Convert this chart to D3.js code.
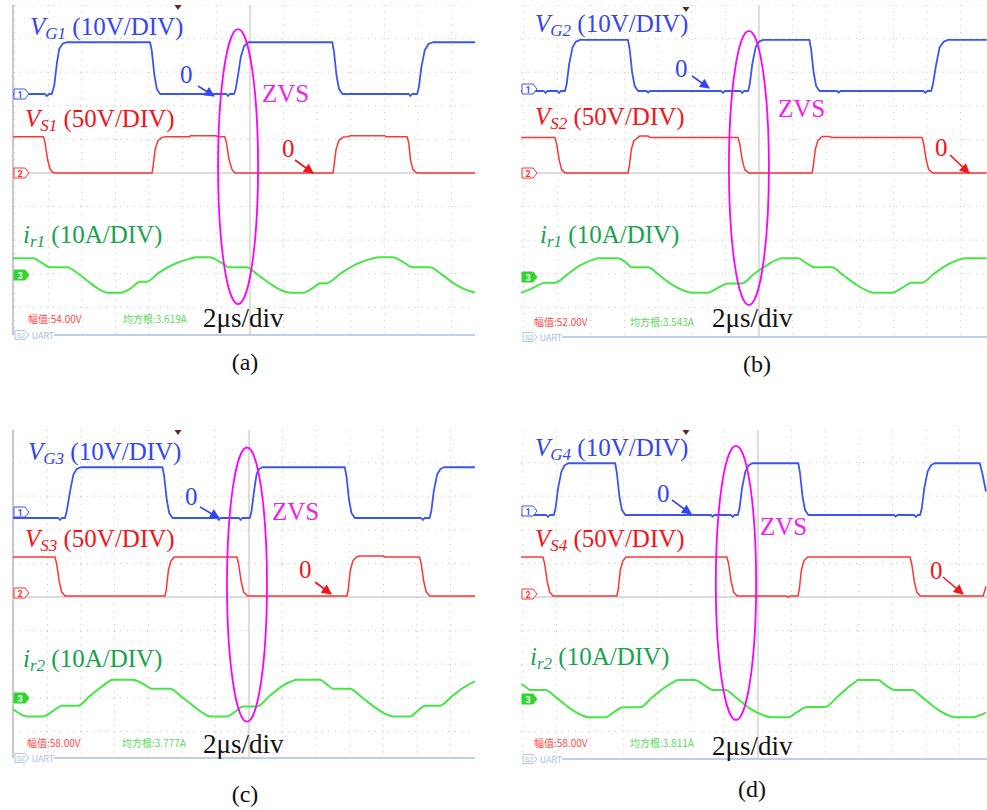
<!DOCTYPE html>
<html>
<head>
<meta charset="utf-8">
<script src="https://cdn.jsdelivr.net/npm/d3@7"></script>
<style>
  body { margin: 0; background: #fff; }
  svg { display: block; }
</style>
</head>
<body>
<div id="chart"></div>
<script>
/** Waveform data: [time (µs, 0 = screen centre), value] **/
// gate voltages, V
const vgA = [[-14.1,0],[-12.2,0],[-12.1,-0.6],[-11.95,0],[-11.8,0],[-11.65,2.5],[-11.5,9],[-11.35,13.5],[-11.15,15],[-10.9,15.4],[-5.95,15.4],[-5.85,13],[-5.7,6],[-5.55,1.5],[-5.35,0],[-1.4,0],[-1.3,-0.6],[-1.2,0],[-0.95,0],[-0.85,1.5],[-0.7,6],[-0.55,11],[-0.35,14.3],[-0.1,15.4],[4.9,15.4],[5.0,12.5],[5.15,5.5],[5.3,1.5],[5.5,0],[9.45,0],[9.55,-0.6],[9.65,0],[9.95,0],[10.05,2],[10.2,8],[10.4,13],[10.65,15],[10.9,15.4],[13.4,15.4]];
const vgB = [[-14.16,0],[-12.8,0],[-12.7,-0.6],[-12.6,0],[-12.0,0],[-11.9,-0.6],[-11.8,0],[-11.55,0],[-11.45,2],[-11.3,8],[-11.1,13],[-10.9,14.7],[-10.65,15.2],[-7.8,15.2],[-7.7,12.5],[-7.55,5.5],[-7.4,1.5],[-7.2,0],[-6.7,0],[-6.6,-0.5],[-6.5,0],[-2.25,0],[-2.15,-0.6],[-2.05,0],[-1.1,0],[-1.0,-0.6],[-0.9,0],[-0.65,0],[-0.55,2],[-0.4,8],[-0.2,13],[0,14.7],[0.25,15.2],[3.0,15.2],[3.1,12.5],[3.25,5.5],[3.4,1.5],[3.6,0],[4.65,0],[4.75,-0.5],[4.85,0],[9.8,0],[9.9,-0.6],[10.0,0],[10.25,0],[10.35,2],[10.55,8],[10.75,13],[11.0,14.7],[11.25,15.2],[13.55,15.2]];
const vgC = [[-14.05,0],[-11.35,0],[-11.25,-0.6],[-11.15,0],[-10.95,0],[-10.85,2],[-10.65,8],[-10.45,13],[-10.25,14.6],[-10.0,15.1],[-5.15,15.1],[-5.05,12.5],[-4.9,5.5],[-4.75,1.5],[-4.55,0],[-1.9,0],[-1.8,-0.6],[-1.7,0],[-0.6,0],[-0.5,-0.6],[-0.4,0],[0.05,0],[0.15,2],[0.3,8],[0.45,13],[0.6,14.6],[0.8,15.1],[5.7,15.1],[5.8,12.5],[5.95,5.5],[6.1,1.5],[6.3,0],[10.25,0],[10.35,-0.6],[10.45,0],[10.75,0],[10.85,2],[11.0,8],[11.2,13],[11.4,14.6],[11.6,15.1],[13.45,15.1]];
const vgD = [[-14.1,0],[-12.6,0],[-12.5,-0.6],[-12.4,0],[-12.15,0],[-12.05,2],[-11.9,8],[-11.7,13],[-11.5,14.8],[-11.3,15.4],[-8.5,15.4],[-8.4,12.5],[-8.25,5.5],[-8.1,1.5],[-7.9,0],[-2.8,0],[-2.7,-0.5],[-2.6,0],[-1.6,0],[-1.5,-0.6],[-1.4,0],[-1.2,0],[-1.1,2],[-0.95,8],[-0.75,13],[-0.55,14.8],[-0.35,15.4],[2.4,15.4],[2.5,12.5],[2.65,5.5],[2.8,1.5],[3.0,0],[8.1,0],[8.2,-0.5],[8.3,0],[9.3,0],[9.4,-0.6],[9.5,0],[9.65,0],[9.75,2],[9.9,8],[10.1,13],[10.3,14.8],[10.5,15.4],[13.2,15.4],[13.35,12.5],[13.57,7]];

// switch voltages, V
const vsA = [[-14.1,54],[-12.3,54],[-12.2,45],[-12.05,20],[-11.9,6],[-11.75,1],[-11.6,0],[-5.83,0],[-5.77,10],[-5.65,35],[-5.48,48],[-5.24,53],[-5.0,54],[-3.6,54],[-3.55,55.5],[-2.0,55.5],[-1.95,54],[-1.5,54],[-1.4,45],[-1.25,20],[-1.07,5],[-0.89,0],[4.94,0],[5.0,10],[5.12,35],[5.3,49],[5.54,53.5],[5.8,54],[6.0,55.5],[8.0,55.5],[8.1,54],[9.35,54],[9.45,45],[9.55,20],[9.7,5],[9.94,0],[13.4,0]];
const vsB = [[-14.16,53],[-12.15,53],[-12.05,44],[-11.9,20],[-11.75,5],[-11.55,0],[-7.8,0],[-7.72,10],[-7.6,35],[-7.45,48],[-7.2,53],[-7.1,55],[-6.6,55],[-6.5,53],[-1.25,53],[-1.15,44],[-1.0,20],[-0.85,5],[-0.6,0],[3.15,0],[3.23,10],[3.35,35],[3.5,48],[3.7,53],[3.8,54.5],[4.2,54.5],[4.3,53],[9.7,53],[9.8,44],[9.95,20],[10.1,5],[10.35,0],[13.55,0]];
const vsC = [[-14.05,58],[-11.55,58],[-11.45,48],[-11.3,22],[-11.15,6],[-10.95,0],[-5.0,0],[-4.92,10],[-4.8,38],[-4.65,52],[-4.45,58],[-0.72,58],[-0.62,48],[-0.47,22],[-0.32,6],[-0.1,0],[5.83,0],[5.91,10],[6.03,38],[6.18,52],[6.4,58],[6.6,59.5],[8.0,59.5],[8.1,58],[10.15,58],[10.25,48],[10.4,22],[10.55,6],[10.77,0],[13.45,0]];
const vsD = [[-14.1,58],[-12.8,58],[-12.7,48],[-12.55,22],[-12.4,6],[-12.2,0],[-8.4,0],[-8.32,10],[-8.2,38],[-8.05,52],[-7.85,58],[-1.85,58],[-1.75,48],[-1.6,22],[-1.45,6],[-1.25,0],[1.7,0],[1.8,-2],[1.9,0],[2.38,0],[2.46,10],[2.58,38],[2.73,52],[2.95,58],[9.05,58],[9.15,48],[9.3,22],[9.45,6],[9.65,0],[13.4,0],[13.57,14]];

// resonant currents, A
const irA = [[-14.1,4.96],[-12.9,4.96],[-12.4,3.6],[-11.9,2.28],[-10.9,2.28],[-10.2,0.3],[-9.4,-2.8],[-8.9,-4.5],[-8.5,-5.26],[-7.7,-5.26],[-7.1,-4.0],[-6.55,-2.0],[-6.15,-1.98],[-5.4,0.8],[-4.4,3.5],[-3.6,4.8],[-3.2,5.26],[-2.4,5.26],[-1.8,3.9],[-1.2,2.28],[-0.2,2.28],[0.4,0.3],[1.2,-2.6],[1.9,-4.6],[2.4,-5.26],[3.2,-5.26],[3.7,-4.0],[4.2,-2.48],[4.55,-2.48],[5.4,0.5],[6.4,3.4],[7.2,4.8],[7.7,5.26],[8.5,5.26],[9.1,3.9],[9.7,2.28],[10.7,2.28],[11.4,0.2],[12.2,-2.7],[12.9,-4.5],[13.4,-5.26]];
const irB = [[-14.16,-4.67],[-13.6,-3.6],[-12.9,-1.9],[-12.73,-1.7],[-12.14,-1.7],[-11.4,0.8],[-10.6,3.6],[-9.9,5.1],[-9.58,5.56],[-8.39,5.56],[-7.9,4.2],[-7.56,2.88],[-6.6,2.88],[-6.0,0.8],[-5.2,-2.2],[-4.5,-4.0],[-3.99,-4.67],[-3.03,-4.67],[-2.5,-3.4],[-1.84,-1.9],[-1.01,-1.9],[-0.3,0.9],[0.5,3.6],[1.0,5.0],[1.37,5.56],[2.32,5.56],[2.8,4.2],[3.33,2.88],[4.34,2.88],[5.0,0.6],[5.8,-2.3],[6.4,-4.0],[6.78,-4.67],[7.91,-4.67],[8.5,-3.3],[9.1,-1.7],[9.7,-1.7],[10.4,0.9],[11.2,3.6],[11.8,5.0],[12.26,5.56],[13.55,5.56]];
const irC = [[-14.05,-3.27],[-13.2,-5.48],[-12.26,-5.48],[-11.7,-4.0],[-11.13,-2.29],[-10.17,-2.29],[-9.5,0.5],[-8.7,3.6],[-8.1,5.45],[-6.9,5.45],[-6.3,4.2],[-5.77,2.77],[-4.7,2.77],[-4.0,0.3],[-3.2,-2.8],[-2.7,-4.6],[-2.32,-5.48],[-1.31,-5.48],[-0.8,-4.0],[-0.36,-2.5],[0.48,-2.5],[1.2,0.5],[2.0,3.6],[2.5,4.9],[2.86,5.45],[4.22,5.45],[4.6,4.2],[5.0,2.77],[6.0,2.77],[6.7,0.3],[7.5,-2.8],[8.1,-4.7],[8.57,-5.48],[9.58,-5.48],[10.0,-4.0],[10.47,-2.29],[11.36,-2.29],[12.1,0.6],[12.8,3.2],[13.45,4.94]];
const irD = [[-14.1,4.46],[-13.8,3.5],[-13.57,2.68],[-12.67,2.68],[-12.0,0.4],[-11.2,-2.8],[-10.5,-4.8],[-10.1,-5.45],[-9.1,-5.45],[-8.6,-4.0],[-8.03,-2.47],[-7.02,-2.47],[-6.3,0.5],[-5.5,3.6],[-5.0,5.1],[-4.76,5.65],[-3.75,5.65],[-3.2,4.1],[-2.68,2.68],[-1.96,2.68],[-1.3,0.4],[-0.5,-2.8],[0.3,-4.8],[0.83,-5.45],[1.79,-5.45],[2.3,-4.0],[2.92,-2.38],[3.99,-2.38],[4.7,0.5],[5.4,3.6],[5.8,5.1],[5.95,5.65],[7.14,5.65],[7.6,4.1],[8.15,2.68],[9.16,2.68],[9.8,0.4],[10.6,-2.8],[11.3,-4.8],[11.72,-5.45],[12.73,-5.45],[13.57,-4.08]];

/** Labels and readouts **/
const captions = ['(a)', '(b)', '(c)', '(d)'];
const gateNames = ['G1', 'G2', 'G3', 'G4'];
const switchNames = ['S1', 'S2', 'S3', 'S4'];
const currentNames = ['r1', 'r1', 'r2', 'r2'];
const ampReadings = ['54.00V', '52.00V', '58.00V', '58.00V'];
const rmsReadings = ['3.619A', '3.543A', '3.777A', '3.811A'];
const voltsPerDiv = [10, 50, 10]; // CH1 V, CH2 V, CH3 A
const usPerDiv = 2;

/** ZVS ellipse: centre time (µs), centre (div above screen centre), half-width (µs), half-height (div) **/
const zvsMarks = [
  { t: -0.71, d: 0.19, rt: 1.19, rd: 4.09 },
  { t: -0.6, d: 0.15, rt: 1.19, rd: 4.08 },
  { t: -0.12, d: 0.37, rt: 1.19, rd: 4.08 },
  { t: -1.31, d: 0.42, rt: 1.2, rd: 4.08 },
];

/** Screen layout of the four captures (pixels) **/
const DIV = 33.6;
const layout = [
  { cx: 250, cy: 173, left: 13, right: 475, top: 5, bottom: 335, border: true, z: [94, 173, 275], mk: [94, 173, 275], trig: [178, 8],
    lbl: { vg: [30, 35], vs: [25, 127], ir: [23, 243], z1: [180, 83], a1: [198, 86, 214, 96], zvs: [262, 102], z2: [282, 157], a2: [295, 160, 313, 173], meas: [28, 123, 323], div: [203, 327], cap: [245, 370] } },
  { cx: 759, cy: 173, left: 521, right: 987, top: 5, bottom: 337, border: false, z: [91, 173, 277], mk: [89, 173, 277], trig: [686, 10],
    lbl: { vg: [535, 32], vs: [535, 125], ir: [540, 243], z1: [675, 77], a1: [692, 76, 709, 88], zvs: [778, 117], z2: [935, 156], a2: [950, 155, 969, 173], meas: [534, 630, 326], div: [712, 327], cap: [757, 372] } },
  { cx: 249, cy: 597, left: 13, right: 475, top: 430, bottom: 758, border: true, z: [518, 596, 698], mk: [512, 593, 698], trig: [178, 433],
    lbl: { vg: [28, 460], vs: [25, 547], ir: [23, 667], z1: [185, 505], a1: [200, 507, 219, 518], zvs: [272, 520], z2: [299, 578], a2: [315, 582, 331, 594], meas: [27, 122, 747], div: [203, 753], cap: [245, 802] } },
  { cx: 758, cy: 597, left: 521, right: 987, top: 430, bottom: 759, border: false, z: [515, 596, 699], mk: [511, 594, 699], trig: [686, 433],
    lbl: { vg: [535, 456], vs: [535, 547], ir: [530, 665], z1: [657, 502], a1: [672, 500, 691, 514], zvs: [760, 535], z2: [930, 579], a2: [943, 577, 963, 594], meas: [534, 630, 747], div: [712, 755], cap: [752, 797] } },
];

const series = [
  [vgA, vsA, irA],
  [vgB, vsB, irB],
  [vgC, vsC, irC],
  [vgD, vsD, irD],
];

const C = {
  blue: '#3446f2', blueTrace: '#3b56f0',
  red: '#f2141a', redTrace: '#ff3434',
  green: '#17a34e', greenTrace: '#46e646',
  magenta: '#ff00ff', zvs: '#f01ef0',
  grid: '#bdbdbd', uart: '#a9bfe6',
};
const SERIF = '"Liberation Serif", "Times New Roman", serif';

const width = 987;
const height = 810;

const svg = d3
  .select('#chart')
  .append('svg')
  .attr('width', width)
  .attr('height', height)
  .style('background', '#fff');

const defs = svg.append('defs');
[['blue', C.blue], ['red', C.red]].forEach(([k, col]) => {
  defs
    .append('marker')
    .attr('id', 'arrow-' + k)
    .attr('viewBox', '0 0 10 10')
    .attr('refX', 9)
    .attr('refY', 5)
    .attr('markerUnits', 'userSpaceOnUse')
    .attr('markerWidth', 11)
    .attr('markerHeight', 10)
    .attr('orient', 'auto')
    .append('path')
    .attr('d', 'M0,0 L10,5 L0,10 z')
    .attr('fill', col);
});

layout.forEach((p, i) => drawPanel(p, i));

function drawPanel(p, i) {
  const g = svg.append('g');

  /** 1. Scales **/
  const x = d3.scaleLinear().domain([0, usPerDiv]).range([p.cx, p.cx + DIV]);
  const yDiv = d3.scaleLinear().domain([0, 1]).range([p.cy, p.cy - DIV]);
  const yCh = p.z.map((z0, c) =>
    d3.scaleLinear().domain([0, voltsPerDiv[c]]).range([z0, z0 - DIV])
  );

  const clipId = 'clip' + i;
  defs
    .append('clipPath')
    .attr('id', clipId)
    .append('rect')
    .attr('x', p.left)
    .attr('y', p.top)
    .attr('width', p.right - p.left)
    .attr('height', p.bottom - p.top);

  /** 2. Graticule **/
  const grid = g.append('g').attr('clip-path', `url(#${clipId})`);
  const tMin = Math.ceil(x.invert(p.left) / usPerDiv) * usPerDiv;
  const tMax = Math.floor(x.invert(p.right) / usPerDiv) * usPerDiv;
  const tTicks = d3.range(tMin, tMax + 0.01, usPerDiv);
  const dTicks = d3.range(-5, 6);

  grid
    .selectAll('line.v')
    .data(tTicks)
    .join('line')
    .attr('x1', (t) => x(t))
    .attr('x2', (t) => x(t))
    .attr('y1', p.top)
    .attr('y2', p.bottom)
    .attr('stroke', (t) => (t === 0 ? '#d0d0d0' : C.grid))
    .attr('stroke-width', (t) => (t === 0 ? 1.4 : 1))
    .attr('stroke-dasharray', (t) => (t === 0 ? null : '1,5.7'));

  grid
    .selectAll('line.h')
    .data(dTicks)
    .join('line')
    .attr('x1', p.left)
    .attr('x2', p.right)
    .attr('y1', (d) => yDiv(d))
    .attr('y2', (d) => yDiv(d))
    .attr('stroke', (d) => (d === 0 ? '#d0d0d0' : C.grid))
    .attr('stroke-width', (d) => (d === 0 ? 1.4 : 1))
    .attr('stroke-dasharray', (d) => (d === 0 ? null : '1,5.7'));

  if (p.border) {
    g.append('line')
      .attr('x1', p.left)
      .attr('x2', p.left)
      .attr('y1', p.top)
      .attr('y2', p.bottom)
      .attr('stroke', '#bcbcbc')
      .attr('stroke-width', 1.6);
  }

  /** 3. Traces **/
  const traceCols = [C.blueTrace, C.redTrace, C.greenTrace];
  const traceW = [1.8, 1.5, 2];
  const traceCurve = [d3.curveLinear, d3.curveLinear, d3.curveMonotoneX];
  const traces = g.append('g').attr('clip-path', `url(#${clipId})`);
  series[i].forEach((data, c) => {
    const line = d3
      .line()
      .curve(traceCurve[c])
      .x((d) => x(d[0]))
      .y((d) => yCh[c](d[1]));
    traces
      .append('path')
      .datum(data)
      .attr('d', line)
      .attr('fill', 'none')
      .attr('stroke', traceCols[c])
      .attr('stroke-width', traceW[c])
      .attr('stroke-linejoin', 'round');
  });

  /** 4. Channel tags **/
  const tagCols = [C.blueTrace, C.redTrace, '#2fd62f'];
  p.mk.forEach((ym, c) => {
    const x0 = p.left + 1;
    g.append('path')
      .attr('d', `M${x0},${ym - 5} h11 l4,5 l-4,5 h-11 z`)
      .attr('fill', c === 2 ? tagCols[c] : '#fff')
      .attr('stroke', tagCols[c])
      .attr('stroke-width', 1);
    g.append('text')
      .attr('x', x0 + 6)
      .attr('y', ym + 3.5)
      .attr('text-anchor', 'middle')
      .attr('font-family', 'Roboto, sans-serif')
      .attr('font-size', 9)
      .attr('font-weight', 'bold')
      .attr('fill', c === 2 ? '#fff' : tagCols[c])
      .text(c + 1);
  });

  // trigger position marker
  g.append('path')
    .attr('d', `M${p.trig[0] - 3.5},${p.trig[1] - 3} h7 l-3.5,5 z`)
    .attr('fill', '#5b2a1c');

  /** 5. Readouts and UART bus **/
  const L = p.lbl;
  const small = (xx, yy, txt, col) =>
    g.append('text')
      .attr('x', xx)
      .attr('y', yy)
      .attr('font-family', '"Noto Sans CJK SC", "Noto Sans", sans-serif')
      .attr('font-size', 10)
      .attr('fill', col)
      .text(txt);
  small(L.meas[0], L.meas[2], '幅值:' + ampReadings[i], '#ff4545');
  small(L.meas[1], L.meas[2], '均方根:' + rmsReadings[i], '#5ad85a');

  const uy = p.bottom;
  g.append('path')
    .attr('d', `M${p.left + 2},${uy - 4.5} h10 l4,4.5 l-4,4.5 h-10 z`)
    .attr('fill', '#fff')
    .attr('stroke', C.uart)
    .attr('stroke-width', 0.9);
  g.append('text')
    .attr('x', p.left + 8)
    .attr('y', uy + 3)
    .attr('text-anchor', 'middle')
    .attr('font-family', 'Roboto, sans-serif')
    .attr('font-size', 7.5)
    .attr('fill', C.uart)
    .text('S2');
  g.append('text')
    .attr('x', p.left + 19)
    .attr('y', uy + 3.5)
    .attr('font-family', 'Roboto, sans-serif')
    .attr('font-size', 9)
    .attr('fill', C.uart)
    .text('UART');
  g.append('line')
    .attr('x1', p.left + 41)
    .attr('x2', p.right)
    .attr('y1', uy)
    .attr('y2', uy)
    .attr('stroke', C.uart)
    .attr('stroke-width', 1.6);

  /** 6. ZVS ellipse **/
  const e = zvsMarks[i];
  g.append('ellipse')
    .attr('cx', x(e.t))
    .attr('cy', yDiv(e.d))
    .attr('rx', x(e.t + e.rt) - x(e.t))
    .attr('ry', e.rd * DIV)
    .attr('fill', 'none')
    .attr('stroke', C.magenta)
    .attr('stroke-width', 1.8);

  /** 7. Annotations **/
  const big = (xx, yy, col, size = 25) =>
    g.append('text')
      .attr('x', xx)
      .attr('y', yy)
      .attr('font-family', SERIF)
      .attr('font-size', size)
      .attr('fill', col);

  const sigLabel = (pos, main, sub, unit, col) => {
    const t = big(pos[0], pos[1], col);
    t.append('tspan').attr('font-style', 'italic').text(main);
    t.append('tspan')
      .attr('font-style', 'italic')
      .attr('font-size', 17)
      .attr('dy', 4)
      .text(sub);
    t.append('tspan').attr('dy', -4).text(' (' + unit + ')');
  };
  sigLabel(L.vg, 'V', gateNames[i], '10V/DIV', C.blue);
  sigLabel(L.vs, 'V', switchNames[i], '50V/DIV', C.red);
  sigLabel(L.ir, 'i', currentNames[i], '10A/DIV', C.green);

  big(L.z1[0], L.z1[1], C.blue).text('0');
  big(L.z2[0], L.z2[1], C.red).text('0');
  big(L.zvs[0], L.zvs[1], C.zvs).text('ZVS');
  big(L.div[0], L.div[1], '#111', 27).text('2μs/div');

  [[L.a1, C.blue, 'blue'], [L.a2, C.red, 'red']].forEach(([a, col, k]) => {
    g.append('line')
      .attr('x1', a[0])
      .attr('y1', a[1])
      .attr('x2', a[2])
      .attr('y2', a[3])
      .attr('stroke', col)
      .attr('stroke-width', 1.6)
      .attr('marker-end', `url(#arrow-${k})`);
  });

  big(L.cap[0], L.cap[1], '#111', 24)
    .attr('text-anchor', 'middle')
    .text(captions[i]);
}
</script>
</body>
</html>
